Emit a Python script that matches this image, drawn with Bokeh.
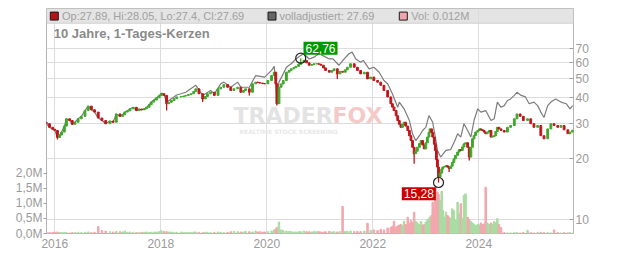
import math
from bokeh.plotting import figure
from bokeh.models import (Range1d, LinearAxis, LinearScale, FixedTicker, BoxAnnotation, Span, Label,
                          ColumnDataSource, CustomJSTickFormatter)
from bokeh.core.properties import value
from bokeh.embed import file_html
from bokeh.resources import INLINE

# ---------------- data ----------------
dates = [2015.84, 2015.90, 2015.96, 2016.00, 2016.05, 2016.09, 2016.13, 2016.18, 2016.22, 2016.28,
         2016.33, 2016.38, 2016.44, 2016.50, 2016.57, 2016.63, 2016.69, 2016.75, 2016.82, 2016.89,
         2016.96, 2017.04, 2017.10, 2017.16, 2017.23, 2017.28, 2017.32, 2017.37, 2017.42, 2017.48,
         2017.54, 2017.59, 2017.64, 2017.69, 2017.73, 2017.78, 2017.82, 2017.87, 2017.92, 2017.97,
         2018.01, 2018.06, 2018.11, 2018.15, 2018.20, 2018.25, 2018.30, 2018.38, 2018.43, 2018.47,
         2018.52, 2018.57, 2018.62, 2018.66, 2018.72, 2018.79, 2018.84, 2018.88, 2018.94, 2019.01,
         2019.08, 2019.13, 2019.19, 2019.26, 2019.32, 2019.38, 2019.45, 2019.51, 2019.56, 2019.60,
         2019.67, 2019.73, 2019.79, 2019.83, 2019.87, 2019.92, 2019.96, 2020.02, 2020.09, 2020.14,
         2020.17, 2020.19, 2020.23, 2020.27, 2020.31, 2020.37, 2020.42, 2020.46, 2020.51, 2020.55,
         2020.60, 2020.64, 2020.70, 2020.75, 2020.80, 2020.85, 2020.89, 2020.94, 2020.98, 2021.02,
         2021.07, 2021.11, 2021.18, 2021.23, 2021.27, 2021.33, 2021.38, 2021.43, 2021.48, 2021.52,
         2021.58, 2021.65, 2021.71, 2021.77, 2021.84, 2021.90, 2021.96, 2022.02, 2022.09, 2022.15,
         2022.21, 2022.28, 2022.34, 2022.37, 2022.40, 2022.44, 2022.47, 2022.50, 2022.53, 2022.56,
         2022.59, 2022.62, 2022.66, 2022.69, 2022.72, 2022.75, 2022.78, 2022.81, 2022.84, 2022.88,
         2022.91, 2022.94, 2022.97, 2023.00, 2023.03, 2023.06, 2023.08, 2023.11, 2023.13, 2023.16,
         2023.18, 2023.20, 2023.22, 2023.24, 2023.27, 2023.30, 2023.32, 2023.35, 2023.38, 2023.41,
         2023.44, 2023.47, 2023.50, 2023.53, 2023.56, 2023.60, 2023.63, 2023.66, 2023.69, 2023.72,
         2023.75, 2023.79, 2023.82, 2023.85, 2023.88, 2023.91, 2023.94, 2023.98, 2024.01, 2024.04,
         2024.07, 2024.10, 2024.13, 2024.16, 2024.20, 2024.23, 2024.26, 2024.29, 2024.32, 2024.35,
         2024.38, 2024.42, 2024.48, 2024.54, 2024.60, 2024.67, 2024.72, 2024.78, 2024.84, 2024.92,
         2024.98, 2025.04, 2025.11, 2025.17, 2025.23, 2025.30, 2025.36, 2025.42, 2025.49, 2025.55,
         2025.61, 2025.68, 2025.72, 2025.77]

close = [29.8, 28.6, 28.0, 27.6, 25.5, 26.2, 27.1, 29.0, 31.5, 30.9,
         29.6, 30.3, 31.5, 32.4, 34.6, 36.4, 34.9, 34.0, 31.8, 30.9,
         29.8, 30.7, 30.3, 33.3, 32.4, 33.0, 34.0, 34.5, 35.3, 35.9,
         34.6, 35.2, 34.9, 35.3, 35.9, 37.0, 38.1, 39.0, 40.0, 41.0,
         41.9, 41.1, 37.4, 38.0, 38.8, 39.6, 40.4, 40.5, 40.8, 41.1,
         41.5, 41.9, 43.0, 44.3, 41.9, 39.5, 40.6, 41.9, 42.6, 41.1,
         44.3, 45.1, 46.5, 45.1, 43.5, 44.3, 45.1, 42.6, 43.5, 44.3,
         42.6, 46.9, 47.8, 47.5, 47.3, 47.0, 46.9, 48.7, 51.5, 53.5,
         46.9, 37.4, 45.1, 46.8, 48.7, 53.5, 54.5, 55.6, 56.4, 57.2,
         58.5, 59.9, 61.2, 59.5, 57.9, 58.4, 58.9, 58.9, 58.6, 57.9,
         56.2, 54.6, 53.5, 54.5, 55.6, 52.5, 54.0, 53.5, 55.0, 56.6,
         58.9, 56.6, 54.6, 52.5, 53.5, 49.6, 50.6, 48.7, 47.8, 46.1,
         43.5, 40.4, 37.4, 36.0, 34.6, 32.6, 30.9, 29.6, 28.6, 29.6,
         30.3, 29.0, 27.6, 26.0, 24.6, 22.8, 21.2, 21.8, 22.8, 23.8,
         24.6, 23.4, 22.4, 24.0, 25.6, 27.0, 28.1, 27.0, 25.6, 23.6,
         22.0, 19.8, 18.2, 16.2, 17.0, 17.8, 18.2, 18.3, 18.5, 18.2,
         17.9, 18.4, 19.2, 20.0, 20.8, 21.6, 22.2, 22.0, 22.9, 23.7,
         24.0, 22.8, 20.4, 22.8, 25.1, 26.1, 27.1, 27.6, 28.1, 27.8,
         27.6, 27.1, 26.6, 27.1, 27.6, 25.6, 25.8, 26.0, 27.3, 28.6,
         28.1, 27.6, 27.1, 28.6, 29.2, 31.5, 33.3, 32.4, 30.9, 31.5,
         29.8, 28.6, 29.2, 26.0, 25.1, 28.1, 29.8, 29.2, 28.6, 29.2,
         27.8, 26.6, 27.1, 27.69]
first_open = 30.3

volume_m = [0.05, 0.03, 0.04, 0.04, 0.05, 0.03, 0.03, 0.04, 0.03, 0.02,
            0.03, 0.03, 0.04, 0.03, 0.04, 0.05, 0.03, 0.04, 0.23, 0.10,
            0.08, 0.06, 0.05, 0.07, 0.06, 0.05, 0.08, 0.04, 0.05, 0.04,
            0.03, 0.03, 0.04, 0.04, 0.05, 0.04, 0.04, 0.05, 0.05, 0.06,
            0.09, 0.07, 0.06, 0.05, 0.05, 0.04, 0.04, 0.05, 0.04, 0.03,
            0.04, 0.04, 0.05, 0.05, 0.04, 0.03, 0.04, 0.04, 0.03, 0.04,
            0.05, 0.04, 0.03, 0.04, 0.06, 0.07, 0.06, 0.05, 0.05, 0.07,
            0.06, 0.05, 0.08, 0.05, 0.06, 0.05, 0.05, 0.06, 0.08, 0.12,
            0.15, 0.20, 0.38, 0.12, 0.10, 0.08, 0.07, 0.06, 0.05, 0.05,
            0.06, 0.06, 0.08, 0.06, 0.06, 0.05, 0.07, 0.06, 0.06, 0.05,
            0.05, 0.06, 0.07, 0.05, 0.06, 0.05, 0.06, 0.90, 0.07, 0.07,
            0.08, 0.06, 0.07, 0.06, 0.08, 0.34, 0.10, 0.12, 0.10, 0.14,
            0.12, 0.18, 0.20, 0.24, 0.41, 0.22, 0.25, 0.28, 0.30, 0.26,
            0.41, 0.30, 0.54, 0.33, 0.43, 0.36, 0.71, 0.40, 0.35, 0.30,
            0.40, 0.28, 0.30, 0.38, 0.45, 0.50, 0.55, 0.60, 1.04, 0.80,
            1.54, 1.20, 1.38, 1.30, 1.10, 1.41, 0.76, 0.54, 0.71, 0.60,
            0.55, 0.50, 0.82, 0.76, 0.45, 1.04, 0.65, 0.99, 0.50, 1.27,
            1.32, 0.54, 0.45, 0.40, 0.35, 0.30, 0.27, 0.30, 0.28, 0.35,
            0.30, 0.32, 1.54, 0.35, 0.30, 0.35, 0.30, 0.40, 0.35, 0.49,
            0.30, 0.20, 0.03, 0.02, 0.02, 0.03, 0.03, 0.02, 0.03, 0.10,
            0.03, 0.02, 0.03, 0.04, 0.03, 0.03, 0.02, 0.12, 0.03, 0.02,
            0.03, 0.02, 0.03, 0.012]

# extended wicks (extreme highs / lows)
wick_dates = [2016.05, 2018.11, 2018.79, 2019.67, 2020.19, 2020.64, 2021.33, 2022.78, 2023.24, 2023.44, 2023.82]
wick_prices = [24.9, 34.6, 38.1, 41.1, 36.6, 62.76, 49.6, 18.9, 15.28, 17.2, 19.6]

# fully adjusted series (grey line; hidden under the candles before 2018)
adj_dates = [2015.84, 2015.90, 2015.96, 2016.00, 2016.05, 2016.09, 2016.13, 2016.18, 2016.22, 2016.28,
             2016.33, 2016.38, 2016.44, 2016.50, 2016.57, 2016.63, 2016.69, 2016.75, 2016.82, 2016.89,
             2016.96, 2017.04, 2017.10, 2017.16, 2017.23, 2017.28, 2017.32, 2017.37, 2017.42, 2017.48,
             2017.54, 2017.59, 2017.64, 2017.69, 2017.73, 2017.78, 2017.82, 2017.87, 2017.92, 2017.97,
             2018.01, 2018.06, 2018.11, 2018.20, 2018.30,
             2018.38, 2018.47, 2018.66, 2018.79, 2018.94, 2019.01, 2019.13, 2019.19,
             2019.32, 2019.45, 2019.51, 2019.67, 2019.79, 2019.96, 2020.09, 2020.14, 2020.19, 2020.23,
             2020.31, 2020.37, 2020.46, 2020.55, 2020.64, 2020.70, 2020.80, 2020.89, 2020.98, 2021.05,
             2021.18, 2021.25, 2021.36, 2021.46, 2021.55, 2021.61, 2021.68, 2021.77, 2021.82, 2021.93,
             2022.02, 2022.12, 2022.21, 2022.28, 2022.37, 2022.47, 2022.50, 2022.59, 2022.69, 2022.75,
             2022.81, 2022.88, 2022.94, 2023.00, 2023.06, 2023.13, 2023.18, 2023.22, 2023.28, 2023.38,
             2023.47, 2023.55, 2023.60, 2023.66, 2023.72, 2023.79, 2023.85, 2023.91, 2023.98, 2024.04,
             2024.13, 2024.23, 2024.29, 2024.35, 2024.42, 2024.48, 2024.54, 2024.60, 2024.67, 2024.72,
             2024.80, 2024.88, 2024.95, 2025.04, 2025.11, 2025.17, 2025.23, 2025.30, 2025.36, 2025.45,
             2025.55, 2025.65, 2025.72, 2025.77]
adj_close = [29.8, 28.6, 28.0, 27.6, 25.5, 26.2, 27.1, 29.0, 31.5, 30.9,
             29.6, 30.3, 31.5, 32.4, 34.6, 36.4, 34.9, 34.0, 31.8, 30.9,
             29.8, 30.7, 30.3, 33.3, 32.4, 33.0, 34.0, 34.5, 35.3, 35.9,
             34.6, 35.2, 34.9, 35.3, 35.9, 37.0, 38.1, 39.0, 40.0, 41.0,
             42.2, 41.6, 38.0, 39.6, 41.3,
             41.9, 42.6, 46.1, 41.1, 43.5, 41.9, 46.9, 47.8,
             45.1, 47.8, 45.1, 45.1, 51.5, 50.6, 54.6, 57.2, 40.4, 47.8,
             52.5, 56.6, 58.9, 62.2, 64.8, 66.0, 62.2, 63.5, 66.0, 64.8,
             62.2, 62.2, 57.9, 62.2, 66.0, 67.2, 62.2, 59.9, 61.2, 55.6,
             56.6, 53.5, 48.7, 46.9, 41.9, 35.9, 38.1, 35.3, 30.9, 26.6,
             24.6, 26.0, 27.6, 28.6, 32.7, 30.3, 25.6, 22.0, 20.4, 22.0,
             22.2, 24.6, 26.6, 25.6, 29.8, 27.6, 25.6, 30.9, 35.3, 34.0,
             34.6, 30.9, 31.5, 38.1, 35.9, 36.6, 38.8, 39.5, 41.1, 42.6,
             41.1, 40.4, 37.4, 38.1, 36.6, 34.0, 32.0, 36.6, 38.1, 39.5,
             38.1, 37.4, 35.3, 36.6]

year_ticks = [2016, 2018, 2020, 2022, 2024]
price_ticks = [10, 20, 30, 40, 50, 60, 70]
volume_ticks = [0.0, 0.5, 1.0, 1.5, 2.0]

max_label = "62,76"
min_label = "15,28"
legend_ohlc = "Op:27.89, Hi:28.05, Lo:27.4, Cl:27.69"
legend_adj = "volladjustiert: 27.69"
legend_vol = "Vol: 0.012M"
title_text = "10 Jahre, 1-Tages-Kerzen"

# ---------------- layout ----------------
W, H = 632, 253
LEFT, RIGHT, TOP, BOTTOM = 46, 59, 8, 20
FW, FH = W - LEFT - RIGHT, H - TOP - BOTTOM
x0, x1 = 2015.8434, 2025.7868
p_lo, p_hi = 8.558, 110.36
v_hi = 7.49


def X(px):
    return x0 + (px - LEFT) * (x1 - x0) / FW


def Y(py):
    return p_lo * (p_hi / p_lo) ** ((H - BOTTOM - py) / FH)


FONT = "Liberation Sans"
AXIS_GREY = "#9a9a9a"
UP, DOWN = "#3ca828", "#c0141a"
VUP, VDOWN = "#a9dca2", "#f2a7ae"

p = figure(width=W, height=H, output_backend="svg", toolbar_location=None,
           x_range=Range1d(x0, x1), y_range=Range1d(p_lo, p_hi), y_axis_type="log",
           y_axis_location="right", min_border_left=LEFT, min_border_right=RIGHT,
           min_border_top=TOP, min_border_bottom=BOTTOM,
           background_fill_color="white", border_fill_color="white",
           outline_line_color="#b4b4b4", outline_line_width=1)

p.extra_y_ranges = {"vol": Range1d(0, v_hi)}
p.extra_y_scales = {"vol": LinearScale()}

# axes
xax = p.xaxis[0]
xax.ticker = FixedTicker(ticks=year_ticks)
xax.formatter = CustomJSTickFormatter(code="return tick.toFixed(0)")
xax.major_tick_in = 0
xax.major_tick_out = 0
xax.major_label_standoff = 5

yax = p.yaxis[0]
yax.ticker = FixedTicker(ticks=price_ticks)
yax.formatter = CustomJSTickFormatter(code="return tick.toFixed(0)")
yax.major_tick_in = 4
yax.major_tick_out = 0
yax.major_label_standoff = 2

vax = LinearAxis(y_range_name="vol", ticker=FixedTicker(ticks=volume_ticks),
                 formatter=CustomJSTickFormatter(code="return tick.toFixed(1).replace('.', ',') + 'M'"))
vax.major_tick_in = 0
vax.major_tick_out = 3
vax.major_label_standoff = 1
p.add_layout(vax, "left")

for ax in (xax, yax, vax):
    ax.axis_line_color = None
    ax.minor_tick_line_color = None
    ax.major_tick_line_color = "#a0a0a0"
    ax.major_label_text_color = AXIS_GREY
    ax.major_label_text_font = FONT
    ax.major_label_text_font_size = "12px"

p.xgrid.ticker = FixedTicker(ticks=year_ticks)
p.ygrid.ticker = FixedTicker(ticks=price_ticks)
p.xgrid.grid_line_color = "#dcdcdc"
p.ygrid.grid_line_color = "#dcdcdc"

# legend band at the top
band_bottom = Y(22.7)
p.add_layout(BoxAnnotation(bottom=band_bottom, top=p_hi, left=x0, right=x1,
                           fill_color="#e4e4e4", fill_alpha=1, line_color=None, level="image"))
p.add_layout(Span(location=band_bottom, dimension="width", line_color="#d0d0d0",
                  line_width=1, level="underlay"))

# candles
opens = [first_open] + close[:-1]
up = [c >= o for o, c in zip(opens, close)]
src = ColumnDataSource(dict(
    x=dates,
    top=[max(o, c) for o, c in zip(opens, close)],
    bottom=[min(o, c) for o, c in zip(opens, close)],
    color=[UP if u else DOWN for u in up],
    vol=volume_m,
    vcolor=[VUP if u else VDOWN for u in up],
))

# volume
p.vbar(x="x", top="vol", bottom=0, width=0.028, color="vcolor", source=src, y_range_name="vol")

# watermark
wm_y = Y(115)
p.text(x=[X(233)], y=[wm_y], text=["TRADER"], text_font=value("DejaVu Sans"), text_font_style="bold",
       text_font_size="22px", text_color="#e3e3e3", text_align="left", text_baseline="middle")
p.text(x=[X(332)], y=[wm_y], text=["FOX"], text_font=value("DejaVu Sans"), text_font_style="bold",
       text_font_size="22px", text_color="#f6c9c9", text_align="left", text_baseline="middle")
p.text(x=[X(239)], y=[Y(130.5)], text=["REALTIME STOCK SCREENING"], text_font=value("DejaVu Sans"),
       text_font_style="bold", text_font_size="6px", text_color="#e8e8e8",
       text_align="left", text_baseline="middle")

# adjusted line
p.line(adj_dates, adj_close, line_color="#7c7c7c", line_width=1.2)

# wicks
w_idx = [dates.index(d) for d in wick_dates]
p.segment(x0=wick_dates, x1=wick_dates,
          y0=[src.data["bottom"][i] if w < src.data["bottom"][i] else src.data["top"][i]
              for i, w in zip(w_idx, wick_prices)],
          y1=wick_prices, line_color=[src.data["color"][i] for i in w_idx], line_width=1.3)
p.vbar(x="x", top="top", bottom="bottom", width=0.034, color="color", source=src)

# max / min markers
i_max = wick_prices.index(max(wick_prices))
i_min = wick_prices.index(min(wick_prices))
p.scatter(x=[wick_dates[i_max], wick_dates[i_min]], y=[wick_prices[i_max], wick_prices[i_min]],
          marker="circle", size=10, fill_color=None, line_color="#222222", line_width=1.2)

p.add_layout(Label(x=X(320), y=Y(47.8), text=max_label, text_color="white", text_font=FONT,
                   text_font_size="12px", text_align="center", text_baseline="middle",
                   background_fill_color="#009900", padding=2))
p.add_layout(Label(x=X(418.3), y=Y(193.3), text=min_label, text_color="white", text_font=FONT,
                   text_font_size="12px", text_align="center", text_baseline="middle",
                   background_fill_color="#cc0000", padding=2))

# legend row
leg_y = Y(15.6)
p.scatter(x=[X(53.8), X(271.5), X(402.8)], y=[leg_y] * 3, marker="square", size=8,
          fill_color=["#b3141a", "#666666", "#f0a5ad"], line_color="#1a1a1a", line_width=1)
for px, txt in ((61.5, legend_ohlc), (279.0, legend_adj), (410.8, legend_vol)):
    p.add_layout(Label(x=X(px), y=leg_y, text=txt, text_color="#a0a0a0", text_font=FONT,
                       text_font_size="11px", text_align="left", text_baseline="middle"))

p.add_layout(Label(x=X(53.3), y=Y(33.3), text=title_text, text_color="#8a8a8a", text_font=FONT,
                   text_font_size="13px", text_font_style="bold", text_align="left",
                   text_baseline="middle"))

open("out.html", "w").write(file_html(p, INLINE))
